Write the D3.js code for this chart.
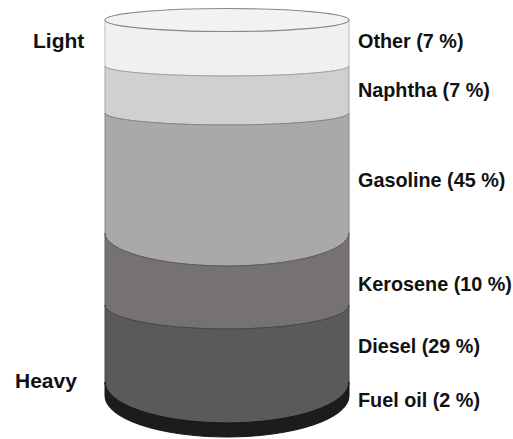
<!DOCTYPE html>
<html>
<head>
<meta charset="utf-8">
<script src="https://cdn.jsdelivr.net/npm/d3@7"></script>
<style>
  body { margin: 0; background: #fff; }
  text { font-family: "Liberation Sans", Arial, sans-serif; font-weight: bold; fill: #111; }
</style>
</head>
<body>
<svg id="chart" width="513" height="439"></svg>
<script>
// fractions of crude oil, light at the top
var products = ["Other", "Naphtha", "Gasoline", "Kerosene", "Diesel", "Fuel oil"];
var shares = [7, 7, 45, 10, 29, 2];
var ends = ["Light", "Heavy"];

var svg = d3.select("#chart");

// cumulative share at each layer boundary
var cum = [0];
shares.forEach(function (d, i) { cum.push(cum[i] + d); });

// the drawing is not to scale: piecewise scales follow the artwork
var y = d3.scaleLinear().domain(cum).range([20, 66, 113, 233, 305, 382, 396]);
var ry = d3.scaleLinear().domain(cum).range([11.5, 10, 12, 33, 24, 41, 41]);
var x = d3.scaleLinear().domain([-1, 1]).range([105, 349]);
var mids = shares.map(function (d, i) { return cum[i] + d / 2; });
var labelY = d3.scaleLinear().domain(mids).range([41, 90, 180, 284, 346, 400]);

var color = d3.scaleOrdinal()
    .domain(products)
    .range(["#f0f0f0", "#d0d0d0", "#a9a9a9", "#767271", "#5a5a5a", "#1c1c1c"]);

var rx = (x(1) - x(-1)) / 2;

function layerPath(a, b) {
    var left = x(-1), right = x(1);
    return "M" + left + "," + y(a) +
        "L" + left + "," + y(b) +
        "A" + rx + "," + ry(b) + " 0 0 0 " + right + "," + y(b) +
        "L" + right + "," + y(a) +
        "A" + rx + "," + ry(a) + " 0 0 1 " + left + "," + y(a) + "Z";
}

// the layers
svg.append("g").selectAll("path")
    .data(products)
    .enter().append("path")
    .attr("d", function (d, i) { return layerPath(cum[i], cum[i + 1]); })
    .attr("fill", function (d) { return color(d); })
    .attr("stroke", function (d) { return d3.color(color(d)).darker(0.7); })
    .attr("stroke-width", 1);

// top lid
svg.append("ellipse")
    .attr("cx", x(0))
    .attr("cy", y(0))
    .attr("rx", rx)
    .attr("ry", ry(0))
    .attr("fill", "#f2f2f2")
    .attr("stroke", "#8a8a8a")
    .attr("stroke-width", 1.2);

// product labels
svg.append("g").selectAll("text")
    .data(products)
    .enter().append("text")
    .attr("x", 358)
    .attr("y", function (d, i) { return labelY(mids[i]); })
    .attr("dy", "0.35em")
    .style("font-size", "19.8px")
    .text(function (d, i) { return d + " (" + shares[i] + " %)"; });

// light / heavy
svg.append("g").selectAll("text")
    .data(ends)
    .enter().append("text")
    .attr("x", function (d, i) { return i === 0 ? 33 : 15; })
    .attr("y", function (d, i) { return i === 0 ? y(0) + 28 : y(100) - 8; })
    .style("font-size", "21px")
    .text(function (d) { return d; });
</script>
</body>
</html>
